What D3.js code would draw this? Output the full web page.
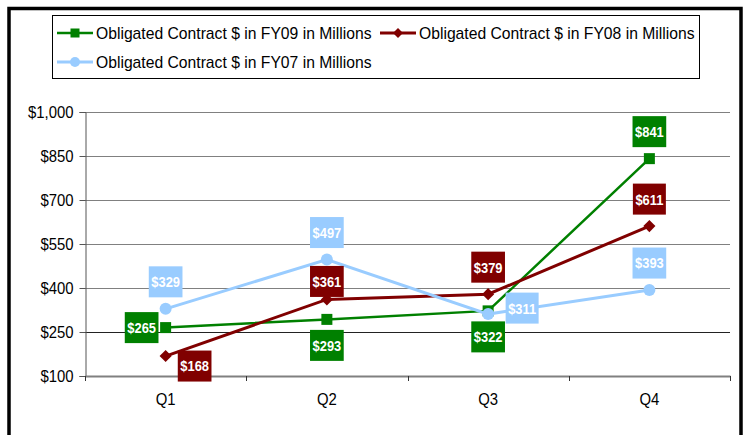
<!DOCTYPE html>
<html>
<head>
<meta charset="utf-8">
<script src="https://cdn.jsdelivr.net/npm/d3@7"></script>
<style>
  body { margin: 0; background: #fff; }
  svg { display: block; font-family: Arial, "Liberation Sans", sans-serif; }
</style>
</head>
<body>
<div id="canvas"></div>
<script>
// chart data
var quarters = ["Q1", "Q2", "Q3", "Q4"];
var fy09 = [265, 293, 322, 841];
var fy08 = [168, 361, 379, 611];
var fy07 = [329, 497, 311, 393];
var seriesNames = [
  "Obligated Contract $ in FY09 in Millions",
  "Obligated Contract $ in FY08 in Millions",
  "Obligated Contract $ in FY07 in Millions"
];
var yTicks = [100, 250, 400, 550, 700, 850, 1000];

// where each data label sits relative to its point
var placeFy09 = ["left", "below", "below", "above"];
var placeFy08 = ["belowRight", "aboveNear", "above", "above"];
var placeFy07 = ["above", "above", "right", "above"];
var offsets = {
  above: [0, -27], aboveNear: [0, -18], below: [0, 26],
  left: [-24, 0], right: [34, -6], belowRight: [29, 10]
};

var series = [
  {name: seriesNames[0], values: fy09, place: placeFy09, color: "#008000", shape: "square", width: 2.5},
  {name: seriesNames[1], values: fy08, place: placeFy08, color: "#800000", shape: "diamond", width: 3},
  {name: seriesNames[2], values: fy07, place: placeFy07, color: "#99CCFF", shape: "circle", width: 3}
];

var W = 743, H = 435;
var plot = {left: 85, right: 730, top: 112, bottom: 376};

var svg = d3.select("#canvas").append("svg")
  .attr("width", W).attr("height", H);

// outer frame
svg.append("path")
  .attr("d", "M9,450 L9,8.5 L741,8.5 L741,450")
  .attr("fill", "none").attr("stroke", "#000").attr("stroke-width", 3.5);

var x = d3.scaleBand().domain(quarters).range([plot.left, plot.right]).padding(0);
var y = d3.scaleLinear().domain([100, 1000]).range([plot.bottom, plot.top]);

// gridlines
svg.append("g").selectAll("line")
  .data(yTicks.slice(1))
  .enter().append("line")
    .attr("x1", plot.left).attr("x2", plot.right)
    .attr("y1", function(d) { return Math.round(y(d)) + 0.5; })
    .attr("y2", function(d) { return Math.round(y(d)) + 0.5; })
    .attr("stroke", function(d) { return d === 250 ? "#222" : "#808080"; })
    .attr("stroke-width", 1);

// squeeze text a little, like the original's narrow glyphs
function squeeze(sel, k) {
  sel.each(function() {
    var w = this.getComputedTextLength();
    d3.select(this).attr("textLength", w * k).attr("lengthAdjust", "spacingAndGlyphs");
  });
}

// y axis
var yAxis = svg.append("g")
  .attr("transform", "translate(" + (plot.left + 0.5) + ",0)")
  .call(d3.axisLeft(y).tickValues(yTicks).tickSize(6).tickPadding(6)
    .tickFormat(function(d) { return "$" + d3.format(",")(d); }));
yAxis.select(".domain").attr("stroke", "#555");
yAxis.selectAll(".tick line").attr("stroke", "#555");
yAxis.selectAll("text").attr("font-size", "16px").attr("fill", "#000")
  .attr("font-family", "Arial, 'Liberation Sans', sans-serif")
  .call(squeeze, 0.93);

// x axis
var xAxis = svg.append("g")
  .attr("transform", "translate(0," + plot.bottom + ")")
  .call(d3.axisBottom(x).tickSize(0).tickPadding(18));
xAxis.select(".domain").attr("stroke", "#808080").attr("stroke-width", 2);
xAxis.selectAll("text").attr("font-size", "16px").attr("fill", "#000")
  .attr("font-family", "Arial, 'Liberation Sans', sans-serif")
  .call(squeeze, 0.93);
xAxis.selectAll(".edge")
  .data(quarters.map(function(q) { return x(q); }).concat([plot.right]))
  .enter().append("line")
    .attr("class", "edge")
    .attr("x1", function(d) { return Math.round(d) + 0.5; })
    .attr("x2", function(d) { return Math.round(d) + 0.5; })
    .attr("y1", 0).attr("y2", 5)
    .attr("stroke", "#333");

function cx(i) { return x(quarters[i]) + x.bandwidth() / 2; }

function drawMarker(g, shape, color, s) {
  if (shape === "square") {
    g.append("rect").attr("x", -s / 2).attr("y", -s / 2)
      .attr("width", s).attr("height", s).attr("fill", color);
  } else if (shape === "diamond") {
    var h = s * 0.55;
    g.append("path").attr("d", "M0," + (-h) + "L" + h + ",0L0," + h + "L" + (-h) + ",0Z")
      .attr("fill", color);
  } else {
    g.append("circle").attr("r", s / 2).attr("fill", color);
  }
}

// lines and markers
var line = d3.line()
  .x(function(d, i) { return cx(i); })
  .y(function(d) { return y(d); });

series.forEach(function(s) {
  var g = svg.append("g");
  g.append("path")
    .datum(s.values)
    .attr("d", line)
    .attr("fill", "none")
    .attr("stroke", s.color)
    .attr("stroke-width", s.width);
  s.values.forEach(function(v, i) {
    var m = g.append("g").attr("transform", "translate(" + cx(i) + "," + y(v) + ")");
    drawMarker(m, s.shape, s.color, s.shape === "circle" ? 12 : 11);
  });
});

// data labels
series.forEach(function(s) {
  s.values.forEach(function(v, i) {
    var off = offsets[s.place[i]];
    var lx = cx(i) + off[0], ly = y(v) + off[1];
    var lg = svg.append("g").attr("transform", "translate(" + lx + "," + ly + ")");
    var rect = lg.append("rect").attr("fill", s.color);
    var t = lg.append("text")
      .attr("text-anchor", "middle")
      .attr("dy", "0.36em")
      .attr("font-size", "15px")
      .attr("font-weight", "bold")
      .attr("fill", "#fff")
      .text("$" + v)
      .call(squeeze, 0.86);
    var tw = +t.attr("textLength");
    var bw = tw + 5;
    rect.attr("x", -bw / 2).attr("y", -15.5).attr("width", bw).attr("height", 31);
  });
});

// legend
var legend = svg.append("g");
legend.append("rect")
  .attr("x", 52.5).attr("y", 15.5).attr("width", 647).attr("height", 63)
  .attr("fill", "#fff").attr("stroke", "#000").attr("stroke-width", 1);

var legendPos = [[57, 33], [380, 33], [57, 62]];
series.forEach(function(s, i) {
  var p = legendPos[i];
  var item = legend.append("g").attr("transform", "translate(" + p[0] + "," + p[1] + ")");
  item.append("line").attr("x1", 0).attr("x2", 36).attr("y1", 0).attr("y2", 0)
    .attr("stroke", s.color).attr("stroke-width", s.width);
  var m = item.append("g").attr("transform", "translate(18,0)");
  drawMarker(m, s.shape, s.color, s.shape === "circle" ? 10 : 9);
  item.append("text")
    .attr("x", 39).attr("dy", "0.36em")
    .attr("font-size", "15.7px")
    .attr("fill", "#000")
    .text(s.name);
});
</script>
</body>
</html>
